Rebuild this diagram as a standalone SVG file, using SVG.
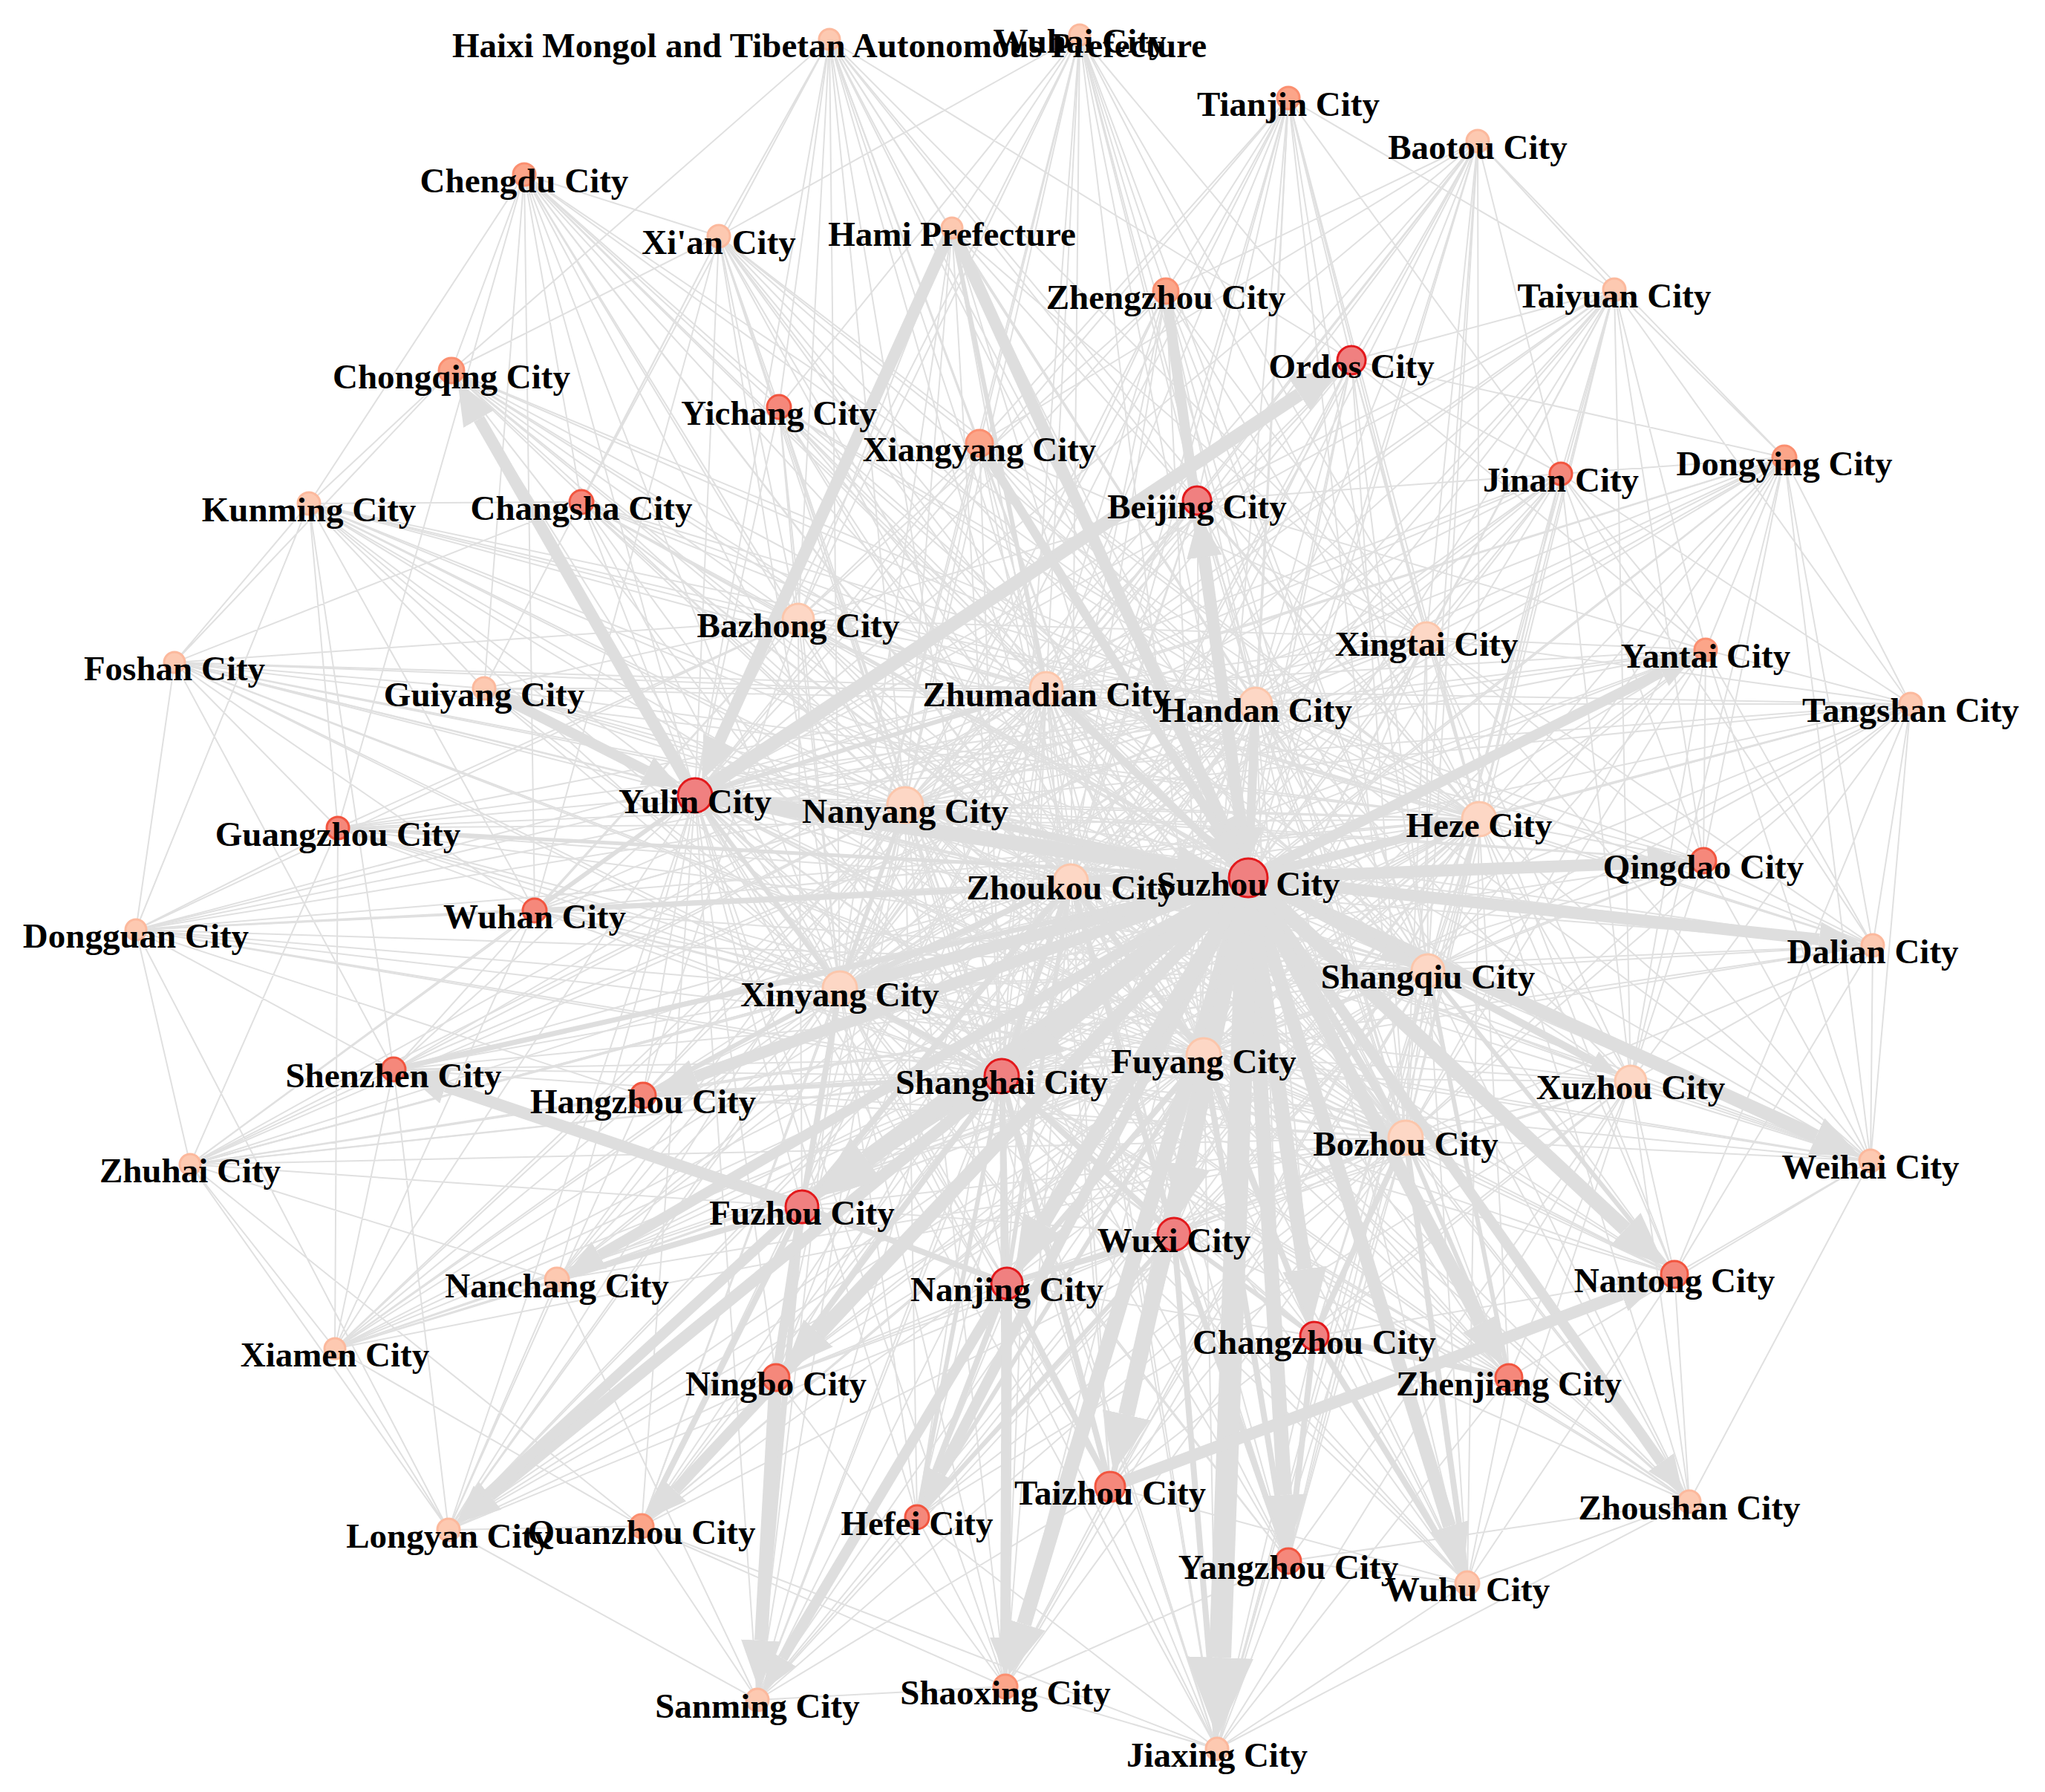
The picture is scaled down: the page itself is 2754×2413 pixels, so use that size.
<svg xmlns="http://www.w3.org/2000/svg" width="2754" height="2413" viewBox="0 0 2754 2413">
<style>
.e{fill:none;stroke:#e0e0e0;stroke-width:2;stroke-linejoin:round}
.m{stroke:#dedede;stroke-linecap:butt}
.t{stroke:#dedede;marker-end:url(#ah)}
.n text{font-family:"Liberation Serif","Times New Roman",serif;font-weight:bold;font-size:47px;text-anchor:middle;fill:#000}
.c1{fill:#f08080;stroke:#e3191c;stroke-width:3}
.c2{fill:#f5887b;stroke:#f2553f;stroke-width:3}
.c3{fill:#fca589;stroke:#fb8f70;stroke-width:3}
.c4{fill:#fdc9b1;stroke:#fcb99d;stroke-width:3}
.c5{fill:#fdd7c5;stroke:#fcc6ab;stroke-width:3}
</style>
<defs>
<marker id="ah" viewBox="0 0 12 10" refX="0" refY="5" markerWidth="3.6" markerHeight="3" orient="auto" markerUnits="strokeWidth"><path d="M0 0L12 5L0 10z" fill="#dedede"/></marker>
</defs>
<rect width="2754" height="2413" fill="#fff"/>
<g id="connectors">
<g id="thin">
<path class="e" d="M1117 53L1681 1182 1454 47 1681 1182 1735 132 1681 1182 1990 190 1681 1182 706 235 1681 1182 968 318 1681 1182 1282 307 1681 1182 1570 392 1681 1182 2174 390 1681 1182 1820 485 1681 1182 608 499 1681 1182 1049 548 1681 1182 1319 597 1681 1182 2403 616 1681 1182 416 678 1681 1182 783 676 1681 1182 1612 674 1681 1182 2102 638 1681 1182 2297 875 1681 1182 235 892 1681 1182 652 927 1681 1182 2573 948 1681 1182 936 1071 1681 1182 455 1115 1681 1182 2294 1159 1681 1182 183 1252 1681 1182 720 1226 1681 1182 2522 1273 1681 1182 530 1440 1681 1182 866 1475 1681 1182 1349 1449 1681 1182 256 1568 1681 1182 2519 1563 1681 1182 1080 1625 1681 1182 1581 1662 1681 1182 750 1723 1681 1182 1356 1728 1681 1182 2255 1716 1681 1182 1770 1799 1681 1182 451 1816 1681 1182 1045 1855 1681 1182 2032 1855 1681 1182 1495 2002 1681 1182 1235 2043 1681 1182 2275 2022 1681 1182 604 2060 1681 1182 864 2055 1681 1182 1735 2102 1681 1182 1976 2132 1681 1182 1020 2289 1681 1182 1354 2271 1681 1182 1639 2355"/>
<path class="e" d="M1117 53L1442 1187 1454 47 1442 1187 1735 132 1442 1187 1990 190 1442 1187 706 235 1442 1187 968 318 1442 1187 1282 307 1442 1187 1570 392 1442 1187 2174 390 1442 1187 1820 485 1442 1187 608 499 1442 1187 1049 548 1442 1187 1319 597 1442 1187 2403 616 1442 1187 416 678 1442 1187 783 676 1442 1187 1612 674 1442 1187 2102 638 1442 1187 2297 875 1442 1187 235 892 1442 1187 652 927 1442 1187 2573 948 1442 1187 936 1071 1442 1187 455 1115 1442 1187 2294 1159 1442 1187 183 1252 1442 1187 720 1226 1442 1187 2522 1273 1442 1187 530 1440 1442 1187 866 1475 1442 1187 1349 1449 1442 1187 256 1568 1442 1187 2519 1563 1442 1187 1080 1625 1442 1187 1581 1662 1442 1187 750 1723 1442 1187 1356 1728 1442 1187 2255 1716 1442 1187 1770 1799 1442 1187 451 1816 1442 1187 1045 1855 1442 1187 2032 1855 1442 1187 1495 2002 1442 1187 1235 2043 1442 1187 2275 2022 1442 1187 604 2060 1442 1187 864 2055 1442 1187 1735 2102 1442 1187 1976 2132 1442 1187 1020 2289 1442 1187 1354 2271 1442 1187 1639 2355"/>
<path class="e" d="M1117 53L1219 1084 1454 47 1219 1084 1735 132 1219 1084 1990 190 1219 1084 706 235 1219 1084 968 318 1219 1084 1282 307 1219 1084 1570 392 1219 1084 2174 390 1219 1084 1820 485 1219 1084 608 499 1219 1084 1049 548 1219 1084 1319 597 1219 1084 2403 616 1219 1084 416 678 1219 1084 783 676 1219 1084 1612 674 1219 1084 2102 638 1219 1084 2297 875 1219 1084 235 892 1219 1084 652 927 1219 1084 2573 948 1219 1084 936 1071 1219 1084 455 1115 1219 1084 2294 1159 1219 1084 183 1252 1219 1084 720 1226 1219 1084 2522 1273 1219 1084 530 1440 1219 1084 866 1475 1219 1084 1349 1449 1219 1084 256 1568 1219 1084 2519 1563 1219 1084 1080 1625 1219 1084 1581 1662 1219 1084 750 1723 1219 1084 1356 1728 1219 1084 2255 1716 1219 1084 1770 1799 1219 1084 451 1816 1219 1084 1045 1855 1219 1084 2032 1855 1219 1084 1495 2002 1219 1084 1235 2043 1219 1084 2275 2022 1219 1084 604 2060 1219 1084 864 2055 1219 1084 1735 2102 1219 1084 1976 2132 1219 1084 1020 2289 1219 1084 1354 2271 1219 1084 1639 2355"/>
<path class="e" d="M1117 53L1131 1331 1454 47 1131 1331 1735 132 1131 1331 1990 190 1131 1331 706 235 1131 1331 968 318 1131 1331 1282 307 1131 1331 1570 392 1131 1331 2174 390 1131 1331 1820 485 1131 1331 608 499 1131 1331 1049 548 1131 1331 1319 597 1131 1331 2403 616 1131 1331 416 678 1131 1331 783 676 1131 1331 1612 674 1131 1331 2102 638 1131 1331 2297 875 1131 1331 235 892 1131 1331 652 927 1131 1331 2573 948 1131 1331 936 1071 1131 1331 455 1115 1131 1331 2294 1159 1131 1331 183 1252 1131 1331 720 1226 1131 1331 2522 1273 1131 1331 530 1440 1131 1331 866 1475 1131 1331 1349 1449 1131 1331 256 1568 1131 1331 2519 1563 1131 1331 1080 1625 1131 1331 1581 1662 1131 1331 750 1723 1131 1331 1356 1728 1131 1331 2255 1716 1131 1331 1770 1799 1131 1331 451 1816 1131 1331 1045 1855 1131 1331 2032 1855 1131 1331 1495 2002 1131 1331 1235 2043 1131 1331 2275 2022 1131 1331 604 2060 1131 1331 864 2055 1131 1331 1735 2102 1131 1331 1976 2132 1131 1331 1020 2289 1131 1331 1354 2271 1131 1331 1639 2355"/>
<path class="e" d="M1117 53L1621 1421 1454 47 1621 1421 1735 132 1621 1421 1990 190 1621 1421 706 235 1621 1421 968 318 1621 1421 1282 307 1621 1421 1570 392 1621 1421 2174 390 1621 1421 1820 485 1621 1421 608 499 1621 1421 1049 548 1621 1421 1319 597 1621 1421 2403 616 1621 1421 416 678 1621 1421 783 676 1621 1421 1612 674 1621 1421 2102 638 1621 1421 2297 875 1621 1421 235 892 1621 1421 652 927 1621 1421 2573 948 1621 1421 936 1071 1621 1421 455 1115 1621 1421 2294 1159 1621 1421 183 1252 1621 1421 720 1226 1621 1421 2522 1273 1621 1421 530 1440 1621 1421 866 1475 1621 1421 1349 1449 1621 1421 256 1568 1621 1421 2519 1563 1621 1421 1080 1625 1621 1421 1581 1662 1621 1421 750 1723 1621 1421 1356 1728 1621 1421 2255 1716 1621 1421 1770 1799 1621 1421 451 1816 1621 1421 1045 1855 1621 1421 2032 1855 1621 1421 1495 2002 1621 1421 1235 2043 1621 1421 2275 2022 1621 1421 604 2060 1621 1421 864 2055 1621 1421 1735 2102 1621 1421 1976 2132 1621 1421 1020 2289 1621 1421 1354 2271 1621 1421 1639 2355"/>
<path class="e" d="M1117 53L1893 1532 1454 47 1893 1532 1735 132 1893 1532 1990 190 1893 1532 706 235 1893 1532 968 318 1893 1532 1282 307 1893 1532 1570 392 1893 1532 2174 390 1893 1532 1820 485 1893 1532 608 499 1893 1532 1049 548 1893 1532 1319 597 1893 1532 2403 616 1893 1532 416 678 1893 1532 783 676 1893 1532 1612 674 1893 1532 2102 638 1893 1532 2297 875 1893 1532 235 892 1893 1532 652 927 1893 1532 2573 948 1893 1532 936 1071 1893 1532 455 1115 1893 1532 2294 1159 1893 1532 183 1252 1893 1532 720 1226 1893 1532 2522 1273 1893 1532 530 1440 1893 1532 866 1475 1893 1532 1349 1449 1893 1532 256 1568 1893 1532 2519 1563 1893 1532 1080 1625 1893 1532 1581 1662 1893 1532 750 1723 1893 1532 1356 1728 1893 1532 2255 1716 1893 1532 1770 1799 1893 1532 451 1816 1893 1532 1045 1855 1893 1532 2032 1855 1893 1532 1495 2002 1893 1532 1235 2043 1893 1532 2275 2022 1893 1532 604 2060 1893 1532 864 2055 1893 1532 1735 2102 1893 1532 1976 2132 1893 1532 1020 2289 1893 1532 1354 2271 1893 1532 1639 2355"/>
<path class="e" d="M1117 53L1923 1307 1454 47 1923 1307 1735 132 1923 1307 1990 190 1923 1307 706 235 1923 1307 968 318 1923 1307 1282 307 1923 1307 1570 392 1923 1307 2174 390 1923 1307 1820 485 1923 1307 608 499 1923 1307 1049 548 1923 1307 1319 597 1923 1307 2403 616 1923 1307 416 678 1923 1307 783 676 1923 1307 1612 674 1923 1307 2102 638 1923 1307 2297 875 1923 1307 235 892 1923 1307 652 927 1923 1307 2573 948 1923 1307 936 1071 1923 1307 455 1115 1923 1307 2294 1159 1923 1307 183 1252 1923 1307 720 1226 1923 1307 2522 1273 1923 1307 530 1440 1923 1307 866 1475 1923 1307 1349 1449 1923 1307 256 1568 1923 1307 2519 1563 1923 1307 1080 1625 1923 1307 1581 1662 1923 1307 750 1723 1923 1307 1356 1728 1923 1307 2255 1716 1923 1307 1770 1799 1923 1307 451 1816 1923 1307 1045 1855 1923 1307 2032 1855 1923 1307 1495 2002 1923 1307 1235 2043 1923 1307 2275 2022 1923 1307 604 2060 1923 1307 864 2055 1923 1307 1735 2102 1923 1307 1976 2132 1923 1307 1020 2289 1923 1307 1354 2271 1923 1307 1639 2355"/>
<path class="e" d="M1117 53L1992 1103 1454 47 1992 1103 1735 132 1992 1103 1990 190 1992 1103 706 235 1992 1103 968 318 1992 1103 1282 307 1992 1103 1570 392 1992 1103 2174 390 1992 1103 1820 485 1992 1103 608 499 1992 1103 1049 548 1992 1103 1319 597 1992 1103 2403 616 1992 1103 416 678 1992 1103 783 676 1992 1103 1612 674 1992 1103 2102 638 1992 1103 2297 875 1992 1103 235 892 1992 1103 652 927 1992 1103 2573 948 1992 1103 936 1071 1992 1103 455 1115 1992 1103 2294 1159 1992 1103 183 1252 1992 1103 720 1226 1992 1103 2522 1273 1992 1103 530 1440 1992 1103 866 1475 1992 1103 1349 1449 1992 1103 256 1568 1992 1103 2519 1563 1992 1103 1080 1625 1992 1103 1581 1662 1992 1103 750 1723 1992 1103 1356 1728 1992 1103 2255 1716 1992 1103 1770 1799 1992 1103 451 1816 1992 1103 1045 1855 1992 1103 2032 1855 1992 1103 1495 2002 1992 1103 1235 2043 1992 1103 2275 2022 1992 1103 604 2060 1992 1103 864 2055 1992 1103 1735 2102 1992 1103 1976 2132 1992 1103 1020 2289 1992 1103 1354 2271 1992 1103 1639 2355"/>
<path class="e" d="M1117 53L1691 948 1454 47 1691 948 1735 132 1691 948 1990 190 1691 948 706 235 1691 948 968 318 1691 948 1282 307 1691 948 1570 392 1691 948 2174 390 1691 948 1820 485 1691 948 608 499 1691 948 1049 548 1691 948 1319 597 1691 948 2403 616 1691 948 416 678 1691 948 783 676 1691 948 1612 674 1691 948 2102 638 1691 948 2297 875 1691 948 235 892 1691 948 652 927 1691 948 2573 948 1691 948 936 1071 1691 948 455 1115 1691 948 2294 1159 1691 948 183 1252 1691 948 720 1226 1691 948 2522 1273 1691 948 530 1440 1691 948 866 1475 1691 948 1349 1449 1691 948 256 1568 1691 948 2519 1563 1691 948 1080 1625 1691 948 1581 1662 1691 948 750 1723 1691 948 1356 1728 1691 948 2255 1716 1691 948 1770 1799 1691 948 451 1816 1691 948 1045 1855 1691 948 2032 1855 1691 948 1495 2002 1691 948 1235 2043 1691 948 2275 2022 1691 948 604 2060 1691 948 864 2055 1691 948 1735 2102 1691 948 1976 2132 1691 948 1020 2289 1691 948 1354 2271 1691 948 1639 2355"/>
<path class="e" d="M1117 53L1409 927 1454 47 1409 927 1735 132 1409 927 1990 190 1409 927 706 235 1409 927 968 318 1409 927 1282 307 1409 927 1570 392 1409 927 2174 390 1409 927 1820 485 1409 927 608 499 1409 927 1049 548 1409 927 1319 597 1409 927 2403 616 1409 927 416 678 1409 927 783 676 1409 927 1612 674 1409 927 2102 638 1409 927 2297 875 1409 927 235 892 1409 927 652 927 1409 927 2573 948 1409 927 936 1071 1409 927 455 1115 1409 927 2294 1159 1409 927 183 1252 1409 927 720 1226 1409 927 2522 1273 1409 927 530 1440 1409 927 866 1475 1409 927 1349 1449 1409 927 256 1568 1409 927 2519 1563 1409 927 1080 1625 1409 927 1581 1662 1409 927 750 1723 1409 927 1356 1728 1409 927 2255 1716 1409 927 1770 1799 1409 927 451 1816 1409 927 1045 1855 1409 927 2032 1855 1409 927 1495 2002 1409 927 1235 2043 1409 927 2275 2022 1409 927 604 2060 1409 927 864 2055 1409 927 1735 2102 1409 927 1976 2132 1409 927 1020 2289 1409 927 1354 2271 1409 927 1639 2355"/>
<path class="e" d="M1117 53L936 1071 1454 47 936 1071 1735 132 936 1071 1990 190 936 1071 706 235 936 1071 968 318 936 1071 1282 307 936 1071 1570 392 936 1071 2174 390 936 1071 1820 485 936 1071 608 499 936 1071 1049 548 936 1071 1319 597 936 1071 2403 616 936 1071 416 678 936 1071 783 676 936 1071 1612 674 936 1071 2102 638 936 1071 2297 875 936 1071 235 892 936 1071 652 927 936 1071 2573 948 936 1071 455 1115 936 1071 2294 1159 936 1071 183 1252 936 1071 720 1226 936 1071 2522 1273 936 1071 530 1440 936 1071 866 1475 936 1071 1349 1449 936 1071 256 1568 936 1071 2519 1563 936 1071 1080 1625 936 1071 1581 1662 936 1071 750 1723 936 1071 1356 1728 936 1071 2255 1716 936 1071 1770 1799 936 1071 451 1816 936 1071 1045 1855 936 1071 2032 1855 936 1071 1495 2002 936 1071 1235 2043 936 1071 2275 2022 936 1071 604 2060 936 1071 864 2055 936 1071 1735 2102 936 1071 1976 2132 936 1071 1020 2289 936 1071 1354 2271 936 1071 1639 2355"/>
<path class="e" d="M1117 53L1349 1449 1454 47 1349 1449 1735 132 1349 1449 1990 190 1349 1449 706 235 1349 1449 968 318 1349 1449 1282 307 1349 1449 1570 392 1349 1449 2174 390 1349 1449 1820 485 1349 1449 608 499 1349 1449 1049 548 1349 1449 1319 597 1349 1449 2403 616 1349 1449 416 678 1349 1449 783 676 1349 1449 1612 674 1349 1449 2102 638 1349 1449 2297 875 1349 1449 235 892 1349 1449 652 927 1349 1449 2573 948 1349 1449 936 1071 1349 1449 455 1115 1349 1449 2294 1159 1349 1449 183 1252 1349 1449 720 1226 1349 1449 2522 1273 1349 1449 530 1440 1349 1449 866 1475 1349 1449 256 1568 1349 1449 2519 1563 1349 1449 1080 1625 1349 1449 1581 1662 1349 1449 750 1723 1349 1449 1356 1728 1349 1449 2255 1716 1349 1449 1770 1799 1349 1449 451 1816 1349 1449 1045 1855 1349 1449 2032 1855 1349 1449 1495 2002 1349 1449 1235 2043 1349 1449 2275 2022 1349 1449 604 2060 1349 1449 864 2055 1349 1449 1735 2102 1349 1449 1976 2132 1349 1449 1020 2289 1349 1449 1354 2271 1349 1449 1639 2355"/>
<path class="e" d="M1735 132L1921 859 1990 190 1921 859 2174 390 1921 859 1820 485 1921 859 2403 616 1921 859 2102 638 1921 859 2297 875 1921 859 2573 948 1921 859 2294 1159 1921 859 2522 1273 1921 859 2519 1563 1921 859 1612 674 1921 859 1570 392 1921 859 1454 47 1921 859 1282 307 1921 859 1319 597 1921 859 936 1071 1921 859 1349 1449 1921 859 1581 1662 1921 859 2255 1716 1921 859 1117 53"/>
<path class="e" d="M1117 53L1075 834 706 235 1075 834 968 318 1075 834 1282 307 1075 834 608 499 1075 834 1049 548 1075 834 1319 597 1075 834 416 678 1075 834 783 676 1075 834 652 927 1075 834 235 892 1075 834 455 1115 1075 834 720 1226 1075 834 530 1440 1075 834 866 1475 1075 834 1080 1625 1075 834 1612 674 1075 834 1454 47 1075 834 1570 392 1075 834 183 1252"/>
<path class="e" d="M2522 1273L2196 1456 2519 1563 2196 1456 2294 1159 2196 1456 2297 875 2196 1456 2573 948 2196 1456 2255 1716 2196 1456 2275 2022 2196 1456 2032 1855 2196 1456 1976 2132 2196 1456 1770 1799 2196 1456 1735 2102 2196 1456 1639 2355 2196 1456 1495 2002 2196 1456 1581 1662 2196 1456 1356 1728 2196 1456 1349 1449 2196 1456 2403 616 2196 1456 2102 638 2196 1456 2174 390 2196 1456 1235 2043"/>
<path class="e" d="M1442 1187L1681 1182 1219 1084 1681 1182 1131 1331 1681 1182 1621 1421 1681 1182 1893 1532 1681 1182 1923 1307 1681 1182 1992 1103 1681 1182 1691 948 1681 1182 1409 927 1681 1182 2196 1456 1681 1182 1075 834 1681 1182 1921 859M1219 1084L1442 1187 1131 1331 1442 1187 1621 1421 1442 1187 1893 1532 1442 1187 1923 1307 1442 1187 1992 1103 1442 1187 1691 948 1442 1187 1409 927 1442 1187 2196 1456 1442 1187 1075 834 1442 1187 1921 859M1131 1331L1219 1084 1621 1421 1219 1084 1893 1532 1219 1084 1923 1307 1219 1084 1992 1103 1219 1084 1691 948 1219 1084 1409 927 1219 1084 2196 1456 1219 1084 1075 834 1219 1084 1921 859M1621 1421L1131 1331 1893 1532 1131 1331 1923 1307 1131 1331 1992 1103 1131 1331 1691 948 1131 1331 1409 927 1131 1331 2196 1456 1131 1331 1075 834 1131 1331 1921 859M1893 1532L1621 1421 1923 1307 1621 1421 1992 1103 1621 1421 1691 948 1621 1421 1409 927 1621 1421 2196 1456 1621 1421 1075 834 1621 1421 1921 859M1923 1307L1893 1532 1992 1103 1893 1532 1691 948 1893 1532 1409 927 1893 1532 2196 1456 1893 1532 1075 834 1893 1532 1921 859M1992 1103L1923 1307 1691 948 1923 1307 1409 927 1923 1307 2196 1456 1923 1307 1075 834 1923 1307 1921 859M1691 948L1992 1103 1409 927 1992 1103 2196 1456 1992 1103 1075 834 1992 1103 1921 859M1409 927L1691 948 2196 1456 1691 948 1075 834 1691 948 1921 859M2196 1456L1409 927 1075 834 1409 927 1921 859M1075 834L2196 1456 1921 859 1075 834"/>
<path class="e" d="M968 318L1117 53 1049 548 1117 53 1319 597 1117 53 1612 674 1117 53 608 499 1117 53 1820 485 1117 53 783 676M1820 485L1454 47 1612 674 1454 47 1282 307 1454 47 1319 597 1454 47 1570 392 1454 47 1049 548 1454 47 968 318M1820 485L1735 132 1612 674 1735 132 2102 638 1735 132 1570 392 1735 132 1319 597 1735 132 2174 390M1820 485L1990 190 1612 674 1990 190 2102 638 1990 190 2174 390 1990 190 1570 392 1990 190 2403 616 1990 190 1319 597M608 499L706 235 652 927 706 235 416 678 706 235 783 676 706 235 720 1226 706 235 968 318 706 235 1049 548 706 235 455 1115M608 499L968 318 1049 548 968 318 720 1226 968 318 783 676 968 318 1319 597 968 318 652 927M2102 638L2174 390 1820 485 2174 390 2297 875 2174 390 2403 616 2174 390 1612 674 2174 390 2294 1159 2174 390 2573 948M2297 875L2403 616 2573 948 2403 616 2102 638 2403 616 2294 1159 2403 616 2519 1563 2403 616 2522 1273 2403 616 1820 485M235 892L416 678 455 1115 416 678 652 927 416 678 608 499 416 678 720 1226 416 678 530 1440 416 678 783 676 416 678 183 1252M455 1115L235 892 183 1252 235 892 720 1226 235 892 530 1440 235 892 652 927 235 892 608 499 235 892 783 676M256 1568L183 1252 530 1440 183 1252 455 1115 183 1252 866 1475 183 1252 604 2060 183 1252 720 1226M530 1440L256 1568 451 1816 256 1568 604 2060 256 1568 455 1115 256 1568 720 1226 256 1568 1080 1625 256 1568 866 1475 256 1568 750 1723 256 1568 864 2055M604 2060L451 1816 530 1440 451 1816 1080 1625 451 1816 750 1723 451 1816 866 1475 451 1816 455 1115 451 1816 864 2055 451 1816 720 1226M1020 2289L604 2060 864 2055 604 2060 530 1440 604 2060 750 1723 604 2060 866 1475 604 2060 1045 1855M864 2055L1020 2289 1080 1625 1020 2289 1354 2271 1020 2289 1235 2043 1020 2289 750 1723 1020 2289 1045 1855 1020 2289 1495 2002M1639 2355L1354 2271 1235 2043 1354 2271 1495 2002 1354 2271 1045 1855 1354 2271 864 2055 1354 2271 1735 2102M1495 2002L1639 2355 1976 2132 1639 2355 1735 2102 1639 2355 2275 2022 1639 2355 1235 2043 1639 2355 1770 1799 1639 2355 864 2055 1639 2355 2032 1855M2275 2022L1976 2132 2032 1855 1976 2132 2255 1716 1976 2132 1495 2002 1976 2132 1735 2102 1976 2132 1770 1799M2255 1716L2275 2022 2032 1855 2275 2022 2519 1563 2275 2022 1770 1799 2275 2022 1735 2102M2522 1273L2519 1563 2573 948 2519 1563 2294 1159 2519 1563 2297 875 2519 1563 2255 1716 2519 1563 2032 1855M2573 948L2522 1273 2294 1159 2522 1273 2297 875 2522 1273 2255 1716 2522 1273 2102 638M2297 875L2573 948 2294 1159 2573 948 2102 638 2573 948 2255 1716M2294 1159L2297 875 2102 638 2297 875 1612 674 2297 875 1820 485M1612 674L2102 638 1820 485 2102 638 2294 1159M1581 1662L1356 1728 1770 1799 1581 1662 1080 1625 1356 1728 1045 1855 1581 1662 2032 1855 1770 1799 2255 1716"/>
</g>
<g id="medium">
<line class="m" x1="1681" y1="1182" x2="1442" y2="1187" stroke-width="16"/>
<line class="m" x1="1681" y1="1182" x2="1219" y2="1084" stroke-width="10"/>
<line class="m" x1="1681" y1="1182" x2="1131" y2="1331" stroke-width="16"/>
<line class="m" x1="1681" y1="1182" x2="1621" y2="1421" stroke-width="16"/>
<line class="m" x1="1681" y1="1182" x2="1893" y2="1532" stroke-width="10"/>
<line class="m" x1="1681" y1="1182" x2="720" y2="1226" stroke-width="7"/>
<line class="m" x1="1681" y1="1182" x2="530" y2="1440" stroke-width="7"/>
<line class="m" x1="1681" y1="1182" x2="455" y2="1115" stroke-width="5"/>
<line class="m" x1="1681" y1="1182" x2="1409" y2="927" stroke-width="10"/>
<line class="m" x1="1080" y1="1625" x2="1356" y2="1728" stroke-width="8"/>
<line class="m" x1="1080" y1="1625" x2="1045" y2="1855" stroke-width="12"/>
<line class="m" x1="1080" y1="1625" x2="1349" y2="1449" stroke-width="8"/>
<line class="m" x1="1080" y1="1625" x2="864" y2="2055" stroke-width="8"/>
<line class="m" x1="1080" y1="1625" x2="750" y2="1723" stroke-width="8"/>
<line class="m" x1="1080" y1="1625" x2="1020" y2="2289" stroke-width="8"/>
<line class="m" x1="1349" y1="1449" x2="1356" y2="1728" stroke-width="8"/>
<line class="m" x1="1349" y1="1449" x2="1581" y2="1662" stroke-width="8"/>
<line class="m" x1="1349" y1="1449" x2="1495" y2="2002" stroke-width="8"/>
<line class="m" x1="1349" y1="1449" x2="1045" y2="1855" stroke-width="8"/>
<line class="m" x1="1349" y1="1449" x2="1235" y2="2043" stroke-width="6"/>
<line class="m" x1="1349" y1="1449" x2="866" y2="1475" stroke-width="6"/>
<line class="m" x1="1349" y1="1449" x2="1354" y2="2271" stroke-width="6"/>
<line class="m" x1="1356" y1="1728" x2="1495" y2="2002" stroke-width="8"/>
<line class="m" x1="1356" y1="1728" x2="1235" y2="2043" stroke-width="8"/>
<line class="m" x1="1356" y1="1728" x2="1581" y2="1662" stroke-width="8"/>
<line class="m" x1="1581" y1="1662" x2="1495" y2="2002" stroke-width="8"/>
<line class="m" x1="1581" y1="1662" x2="1735" y2="2102" stroke-width="8"/>
<line class="m" x1="1581" y1="1662" x2="1770" y2="1799" stroke-width="6"/>
<line class="m" x1="1581" y1="1662" x2="1639" y2="2355" stroke-width="8"/>
<line class="m" x1="1581" y1="1662" x2="1235" y2="2043" stroke-width="6"/>
<line class="m" x1="1770" y1="1799" x2="1735" y2="2102" stroke-width="8"/>
<line class="m" x1="1770" y1="1799" x2="1976" y2="2132" stroke-width="8"/>
<line class="m" x1="1770" y1="1799" x2="2032" y2="1855" stroke-width="8"/>
<line class="m" x1="1131" y1="1331" x2="1349" y2="1449" stroke-width="6"/>
<line class="m" x1="1131" y1="1331" x2="1080" y2="1625" stroke-width="8"/>
<line class="m" x1="1131" y1="1331" x2="866" y2="1475" stroke-width="6"/>
<line class="m" x1="1131" y1="1331" x2="1219" y2="1084" stroke-width="6"/>
<line class="m" x1="1442" y1="1187" x2="1349" y2="1449" stroke-width="8"/>
<line class="m" x1="1442" y1="1187" x2="1356" y2="1728" stroke-width="6"/>
<line class="m" x1="1442" y1="1187" x2="1080" y2="1625" stroke-width="8"/>
<line class="m" x1="1442" y1="1187" x2="1131" y2="1331" stroke-width="8"/>
<line class="m" x1="1442" y1="1187" x2="1581" y2="1662" stroke-width="8"/>
<line class="m" x1="1442" y1="1187" x2="1621" y2="1421" stroke-width="8"/>
<line class="m" x1="1621" y1="1421" x2="1581" y2="1662" stroke-width="10"/>
<line class="m" x1="1621" y1="1421" x2="1356" y2="1728" stroke-width="8"/>
<line class="m" x1="1621" y1="1421" x2="1495" y2="2002" stroke-width="6"/>
<line class="m" x1="1621" y1="1421" x2="1735" y2="2102" stroke-width="8"/>
<line class="m" x1="1621" y1="1421" x2="1770" y2="1799" stroke-width="8"/>
<line class="m" x1="1621" y1="1421" x2="1235" y2="2043" stroke-width="6"/>
<line class="m" x1="1893" y1="1532" x2="1770" y2="1799" stroke-width="8"/>
<line class="m" x1="1893" y1="1532" x2="2032" y2="1855" stroke-width="6"/>
<line class="m" x1="1893" y1="1532" x2="1976" y2="2132" stroke-width="8"/>
<line class="m" x1="1923" y1="1307" x2="2255" y2="1716" stroke-width="6"/>
<line class="m" x1="1923" y1="1307" x2="2032" y2="1855" stroke-width="6"/>
<line class="m" x1="936" y1="1071" x2="1131" y2="1331" stroke-width="6"/>
<line class="m" x1="936" y1="1071" x2="720" y2="1226" stroke-width="6"/>
<line class="m" x1="936" y1="1071" x2="1409" y2="927" stroke-width="6"/>
<line class="m" x1="1282" y1="307" x2="1409" y2="927" stroke-width="6"/>
</g>
<g id="flows">
<line class="t" x1="1282" y1="307" x2="969" y2="998" stroke-width="16"/>
<line class="t" x1="1282" y1="307" x2="1646" y2="1106" stroke-width="16"/>
<line class="t" x1="1570" y1="392" x2="1670" y2="1106" stroke-width="14"/>
<line class="t" x1="936" y1="1071" x2="1750" y2="531" stroke-width="18"/>
<line class="t" x1="1681" y1="1182" x2="1622" y2="750" stroke-width="16"/>
<line class="t" x1="936" y1="1071" x2="645" y2="564" stroke-width="16"/>
<line class="t" x1="652" y1="927" x2="871" y2="1038" stroke-width="14"/>
<line class="t" x1="936" y1="1071" x2="1584" y2="1168" stroke-width="20"/>
<line class="t" x1="1681" y1="1182" x2="2238" y2="905" stroke-width="14"/>
<line class="t" x1="1681" y1="1182" x2="2219" y2="1162" stroke-width="16"/>
<line class="t" x1="1681" y1="1182" x2="2450" y2="1265" stroke-width="16"/>
<line class="t" x1="1681" y1="1182" x2="2446" y2="1530" stroke-width="18"/>
<line class="t" x1="1681" y1="1182" x2="2189" y2="1655" stroke-width="20"/>
<line class="t" x1="1681" y1="1182" x2="2237" y2="1969" stroke-width="14"/>
<line class="t" x1="1681" y1="1182" x2="1952" y2="2055" stroke-width="18"/>
<line class="t" x1="1681" y1="1182" x2="1730" y2="2013" stroke-width="20"/>
<line class="t" x1="1681" y1="1182" x2="1643" y2="2232" stroke-width="30"/>
<line class="t" x1="1681" y1="1182" x2="1379" y2="2187" stroke-width="20"/>
<line class="t" x1="1681" y1="1182" x2="1517" y2="1905" stroke-width="22"/>
<line class="t" x1="1045" y1="1855" x2="1025" y2="2209" stroke-width="18"/>
<line class="t" x1="1681" y1="1182" x2="660" y2="2014" stroke-width="16"/>
<line class="t" x1="1080" y1="1625" x2="600" y2="1463" stroke-width="16"/>
<line class="t" x1="1681" y1="1182" x2="1167" y2="1561" stroke-width="24"/>
<line class="t" x1="1681" y1="1182" x2="807" y2="1690" stroke-width="14"/>
<line class="t" x1="1681" y1="1182" x2="936" y2="1450" stroke-width="16"/>
<line class="t" x1="1681" y1="1182" x2="909" y2="2007" stroke-width="14"/>
<line class="t" x1="1495" y1="2002" x2="2184" y2="1743" stroke-width="16"/>
<line class="t" x1="1681" y1="1182" x2="1266" y2="1984" stroke-width="14"/>
<line class="t" x1="1681" y1="1182" x2="1102" y2="1795" stroke-width="18"/>
<line class="t" x1="1681" y1="1182" x2="1417" y2="1394" stroke-width="18"/>
<line class="t" x1="1681" y1="1182" x2="1404" y2="1648" stroke-width="20"/>
<line class="t" x1="1681" y1="1182" x2="1600" y2="1570" stroke-width="20"/>
<line class="t" x1="1681" y1="1182" x2="1757" y2="1709" stroke-width="20"/>
<line class="t" x1="1681" y1="1182" x2="1994" y2="1782" stroke-width="18"/>
<line class="t" x1="1681" y1="1182" x2="1928" y2="1119" stroke-width="12"/>
<line class="t" x1="1080" y1="1625" x2="652" y2="2016" stroke-width="14"/>
<line class="t" x1="1356" y1="1728" x2="1054" y2="2233" stroke-width="14"/>
<line class="t" x1="1356" y1="1728" x2="1354" y2="2205" stroke-width="14"/>
<line class="t" x1="1691" y1="948" x2="1684" y2="1113" stroke-width="12"/>
<line class="t" x1="1681" y1="1182" x2="2146" y2="1429" stroke-width="10"/>
<line class="t" x1="1319" y1="597" x2="1645" y2="1123" stroke-width="12"/>
<line class="t" x1="1681" y1="1182" x2="1865" y2="1277" stroke-width="12"/>
</g>
</g>
<g id="nodes">
<g id="n-haixi" class="n"><circle class="c4" cx="1117" cy="53" r="14"/><text x="1117" y="77">Haixi Mongol and Tibetan Autonomous Prefecture</text></g>
<g id="n-wuhai" class="n"><circle class="c4" cx="1454" cy="47" r="14"/><text x="1454" y="71">Wuhai City</text></g>
<g id="n-tianjin" class="n"><circle class="c3" cx="1735" cy="132" r="15"/><text x="1735" y="156">Tianjin City</text></g>
<g id="n-baotou" class="n"><circle class="c4" cx="1990" cy="190" r="15"/><text x="1990" y="214">Baotou City</text></g>
<g id="n-chengdu" class="n"><circle class="c3" cx="706" cy="235" r="15"/><text x="706" y="259">Chengdu City</text></g>
<g id="n-xian" class="n"><circle class="c4" cx="968" cy="318" r="15"/><text x="968" y="342">Xi'an City</text></g>
<g id="n-hami" class="n"><circle class="c4" cx="1282" cy="307" r="14"/><text x="1282" y="331">Hami Prefecture</text></g>
<g id="n-zhengzhou" class="n"><circle class="c3" cx="1570" cy="392" r="17"/><text x="1570" y="416">Zhengzhou City</text></g>
<g id="n-taiyuan" class="n"><circle class="c4" cx="2174" cy="390" r="15"/><text x="2174" y="414">Taiyuan City</text></g>
<g id="n-ordos" class="n"><circle class="c1" cx="1820" cy="485" r="19"/><text x="1820" y="509">Ordos City</text></g>
<g id="n-chongqing" class="n"><circle class="c3" cx="608" cy="499" r="17"/><text x="608" y="523">Chongqing City</text></g>
<g id="n-yichang" class="n"><circle class="c2" cx="1049" cy="548" r="16"/><text x="1049" y="572">Yichang City</text></g>
<g id="n-xiangyang" class="n"><circle class="c3" cx="1319" cy="597" r="18"/><text x="1319" y="621">Xiangyang City</text></g>
<g id="n-dongying" class="n"><circle class="c3" cx="2403" cy="616" r="16"/><text x="2403" y="640">Dongying City</text></g>
<g id="n-jinan" class="n"><circle class="c2" cx="2102" cy="638" r="15"/><text x="2102" y="662">Jinan City</text></g>
<g id="n-kunming" class="n"><circle class="c4" cx="416" cy="678" r="15"/><text x="416" y="702">Kunming City</text></g>
<g id="n-changsha" class="n"><circle class="c2" cx="783" cy="676" r="16"/><text x="783" y="700">Changsha City</text></g>
<g id="n-beijing" class="n"><circle class="c1" cx="1612" cy="674" r="19"/><text x="1612" y="698">Beijing City</text></g>
<g id="n-bazhong" class="n"><circle class="c5" cx="1075" cy="834" r="21"/><text x="1075" y="858">Bazhong City</text></g>
<g id="n-xingtai" class="n"><circle class="c5" cx="1921" cy="859" r="21"/><text x="1921" y="883">Xingtai City</text></g>
<g id="n-yantai" class="n"><circle class="c3" cx="2297" cy="875" r="15"/><text x="2297" y="899">Yantai City</text></g>
<g id="n-foshan" class="n"><circle class="c4" cx="235" cy="892" r="14"/><text x="235" y="916">Foshan City</text></g>
<g id="n-guiyang" class="n"><circle class="c4" cx="652" cy="927" r="15"/><text x="652" y="951">Guiyang City</text></g>
<g id="n-zhumadian" class="n"><circle class="c5" cx="1409" cy="927" r="22"/><text x="1409" y="951">Zhumadian City</text></g>
<g id="n-handan" class="n"><circle class="c5" cx="1691" cy="948" r="22"/><text x="1691" y="972">Handan City</text></g>
<g id="n-tangshan" class="n"><circle class="c4" cx="2573" cy="948" r="15"/><text x="2573" y="972">Tangshan City</text></g>
<g id="n-yulin" class="n"><circle class="c1" cx="936" cy="1071" r="23"/><text x="936" y="1095">Yulin City</text></g>
<g id="n-nanyang" class="n"><circle class="c5" cx="1219" cy="1084" r="24"/><text x="1219" y="1108">Nanyang City</text></g>
<g id="n-guangzhou" class="n"><circle class="c2" cx="455" cy="1115" r="15"/><text x="455" y="1139">Guangzhou City</text></g>
<g id="n-heze" class="n"><circle class="c5" cx="1992" cy="1103" r="23"/><text x="1992" y="1127">Heze City</text></g>
<g id="n-qingdao" class="n"><circle class="c2" cx="2294" cy="1159" r="17"/><text x="2294" y="1183">Qingdao City</text></g>
<g id="n-zhoukou" class="n"><circle class="c5" cx="1442" cy="1187" r="23"/><text x="1442" y="1211">Zhoukou City</text></g>
<g id="n-suzhou" class="n"><circle class="c1" cx="1681" cy="1182" r="26"/><text x="1681" y="1206">Suzhou City</text></g>
<g id="n-wuhan" class="n"><circle class="c2" cx="720" cy="1226" r="16"/><text x="720" y="1250">Wuhan City</text></g>
<g id="n-dongguan" class="n"><circle class="c4" cx="183" cy="1252" r="14"/><text x="183" y="1276">Dongguan City</text></g>
<g id="n-dalian" class="n"><circle class="c4" cx="2522" cy="1273" r="15"/><text x="2522" y="1297">Dalian City</text></g>
<g id="n-shangqiu" class="n"><circle class="c5" cx="1923" cy="1307" r="22"/><text x="1923" y="1331">Shangqiu City</text></g>
<g id="n-xinyang" class="n"><circle class="c5" cx="1131" cy="1331" r="23"/><text x="1131" y="1355">Xinyang City</text></g>
<g id="n-fuyang" class="n"><circle class="c5" cx="1621" cy="1421" r="23"/><text x="1621" y="1445">Fuyang City</text></g>
<g id="n-shenzhen" class="n"><circle class="c2" cx="530" cy="1440" r="16"/><text x="530" y="1464">Shenzhen City</text></g>
<g id="n-shanghai" class="n"><circle class="c1" cx="1349" cy="1449" r="23"/><text x="1349" y="1473">Shanghai City</text></g>
<g id="n-xuzhou" class="n"><circle class="c5" cx="2196" cy="1456" r="21"/><text x="2196" y="1480">Xuzhou City</text></g>
<g id="n-hangzhou" class="n"><circle class="c2" cx="866" cy="1475" r="17"/><text x="866" y="1499">Hangzhou City</text></g>
<g id="n-bozhou" class="n"><circle class="c5" cx="1893" cy="1532" r="23"/><text x="1893" y="1556">Bozhou City</text></g>
<g id="n-weihai" class="n"><circle class="c4" cx="2519" cy="1563" r="15"/><text x="2519" y="1587">Weihai City</text></g>
<g id="n-zhuhai" class="n"><circle class="c4" cx="256" cy="1568" r="14"/><text x="256" y="1592">Zhuhai City</text></g>
<g id="n-fuzhou" class="n"><circle class="c1" cx="1080" cy="1625" r="22"/><text x="1080" y="1649">Fuzhou City</text></g>
<g id="n-wuxi" class="n"><circle class="c1" cx="1581" cy="1662" r="22"/><text x="1581" y="1686">Wuxi City</text></g>
<g id="n-nantong" class="n"><circle class="c2" cx="2255" cy="1716" r="18"/><text x="2255" y="1740">Nantong City</text></g>
<g id="n-nanchang" class="n"><circle class="c4" cx="750" cy="1723" r="16"/><text x="750" y="1747">Nanchang City</text></g>
<g id="n-nanjing" class="n"><circle class="c1" cx="1356" cy="1728" r="21"/><text x="1356" y="1752">Nanjing City</text></g>
<g id="n-changzhou" class="n"><circle class="c1" cx="1770" cy="1799" r="19"/><text x="1770" y="1823">Changzhou City</text></g>
<g id="n-xiamen" class="n"><circle class="c4" cx="451" cy="1816" r="14"/><text x="451" y="1840">Xiamen City</text></g>
<g id="n-ningbo" class="n"><circle class="c2" cx="1045" cy="1855" r="18"/><text x="1045" y="1879">Ningbo City</text></g>
<g id="n-zhenjiang" class="n"><circle class="c2" cx="2032" cy="1855" r="18"/><text x="2032" y="1879">Zhenjiang City</text></g>
<g id="n-taizhou" class="n"><circle class="c2" cx="1495" cy="2002" r="20"/><text x="1495" y="2026">Taizhou City</text></g>
<g id="n-zhoushan" class="n"><circle class="c4" cx="2275" cy="2022" r="15"/><text x="2275" y="2046">Zhoushan City</text></g>
<g id="n-hefei" class="n"><circle class="c2" cx="1235" cy="2043" r="16"/><text x="1235" y="2067">Hefei City</text></g>
<g id="n-quanzhou" class="n"><circle class="c3" cx="864" cy="2055" r="16"/><text x="864" y="2079">Quanzhou City</text></g>
<g id="n-longyan" class="n"><circle class="c4" cx="604" cy="2060" r="15"/><text x="604" y="2084">Longyan City</text></g>
<g id="n-yangzhou" class="n"><circle class="c2" cx="1735" cy="2102" r="17"/><text x="1735" y="2126">Yangzhou City</text></g>
<g id="n-wuhu" class="n"><circle class="c4" cx="1976" cy="2132" r="16"/><text x="1976" y="2156">Wuhu City</text></g>
<g id="n-shaoxing" class="n"><circle class="c3" cx="1354" cy="2271" r="16"/><text x="1354" y="2295">Shaoxing City</text></g>
<g id="n-sanming" class="n"><circle class="c4" cx="1020" cy="2289" r="15"/><text x="1020" y="2313">Sanming City</text></g>
<g id="n-jiaxing" class="n"><circle class="c4" cx="1639" cy="2355" r="15"/><text x="1639" y="2379">Jiaxing City</text></g>
</g>
</svg>
